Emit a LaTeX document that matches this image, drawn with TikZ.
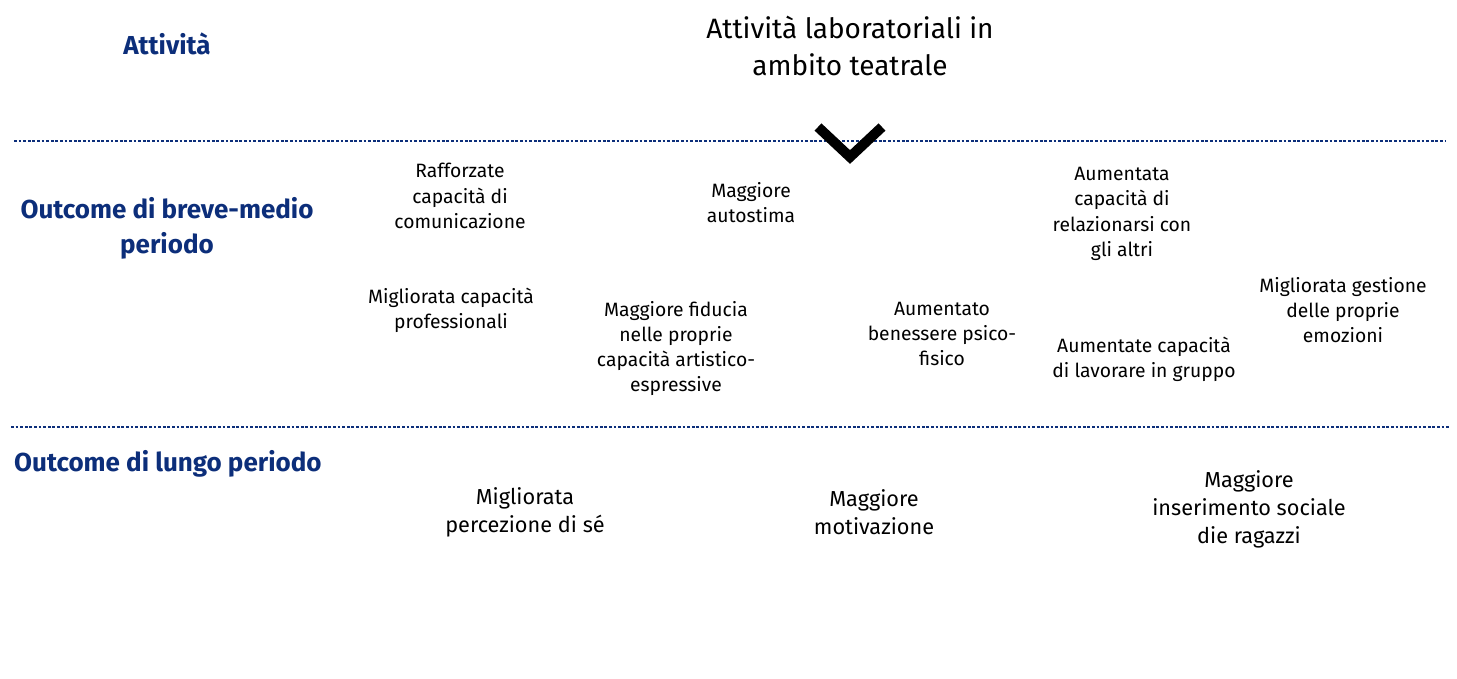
\documentclass[tikz,border=0pt]{standalone}
\usepackage{fontspec}
\setmainfont{Fira Sans}
\definecolor{navy}{RGB}{12,46,122}
\tikzset{
  head/.style={font=\bfseries\fontsize{26}{35}\selectfont, text=navy, align=center, inner sep=0pt},
  small/.style={font=\fontsize{19.3}{25.2}\selectfont, align=center, inner sep=0pt},
  mid/.style={font=\fontsize{21.7}{28}\selectfont, align=center, inner sep=0pt},
  big/.style={font=\fontsize{28}{37}\selectfont, align=center, inner sep=0pt},
  sep/.style={navy, line width=2.8pt, dash pattern=on 2.8pt off 1.8pt},
}
\begin{document}
\begin{tikzpicture}[x=1pt,y=-1pt]
\useasboundingbox (0,0) rectangle (1457,678);
% section headings
\node[head] (att) at (167,44) {Attività};
\node[head] (breve) at (167,228) {Outcome di breve-medio\\periodo};
\node[head, anchor=west] (lungo) at (14,464) {Outcome di lungo periodo};
% separators
\coordinate (s1a) at (14,141); \coordinate (s1b) at (1446,141);
\coordinate (s2a) at (11,427); \coordinate (s2b) at (1449,427);
\draw[sep] (s1a) -- (s1b);
\draw[sep] (s2a) -- (s2b);
% activity
\node[big] (act) at (850,45.5) {Attività laboratoriali in\\ambito teatrale};
% chevron
\coordinate (c1) at (818,127); \coordinate (c2) at (850,157); \coordinate (c3) at (882,127);
\draw[line width=10pt, line join=miter] (c1) -- (c2) -- (c3);
% short-medium outcomes
\node[small] (o1) at (460,196) {Rafforzate\\capacità di\\comunicazione};
\node[small] (o2) at (751,202.5) {Maggiore\\autostima};
\node[small] (o3) at (1122,214) {Aumentata\\capacità di\\relazionarsi con\\gli altri};
\node[small] (o4) at (451,310.5) {Migliorata capacità\\professionali};
\node[small] (o5) at (676,348.5) {Maggiore fiducia\\nelle proprie\\capacità artistico-\\espressive};
\node[small] (o6) at (942,334) {Aumentato\\benessere psico-\\fisico};
\node[small] (o7) at (1144,359) {Aumentate capacità\\di lavorare in gruppo};
\node[small] (o8) at (1343,310) {Migliorata gestione\\delle proprie\\emozioni};
% long-term outcomes
\node[mid] (l1) at (525,512.5) {Migliorata\\percezione di sé};
\node[mid] (l2) at (874,512.5) {Maggiore\\motivazione};
\node[mid] (l3) at (1249,509) {Maggiore\\inserimento sociale\\die ragazzi};
\end{tikzpicture}
\end{document}
